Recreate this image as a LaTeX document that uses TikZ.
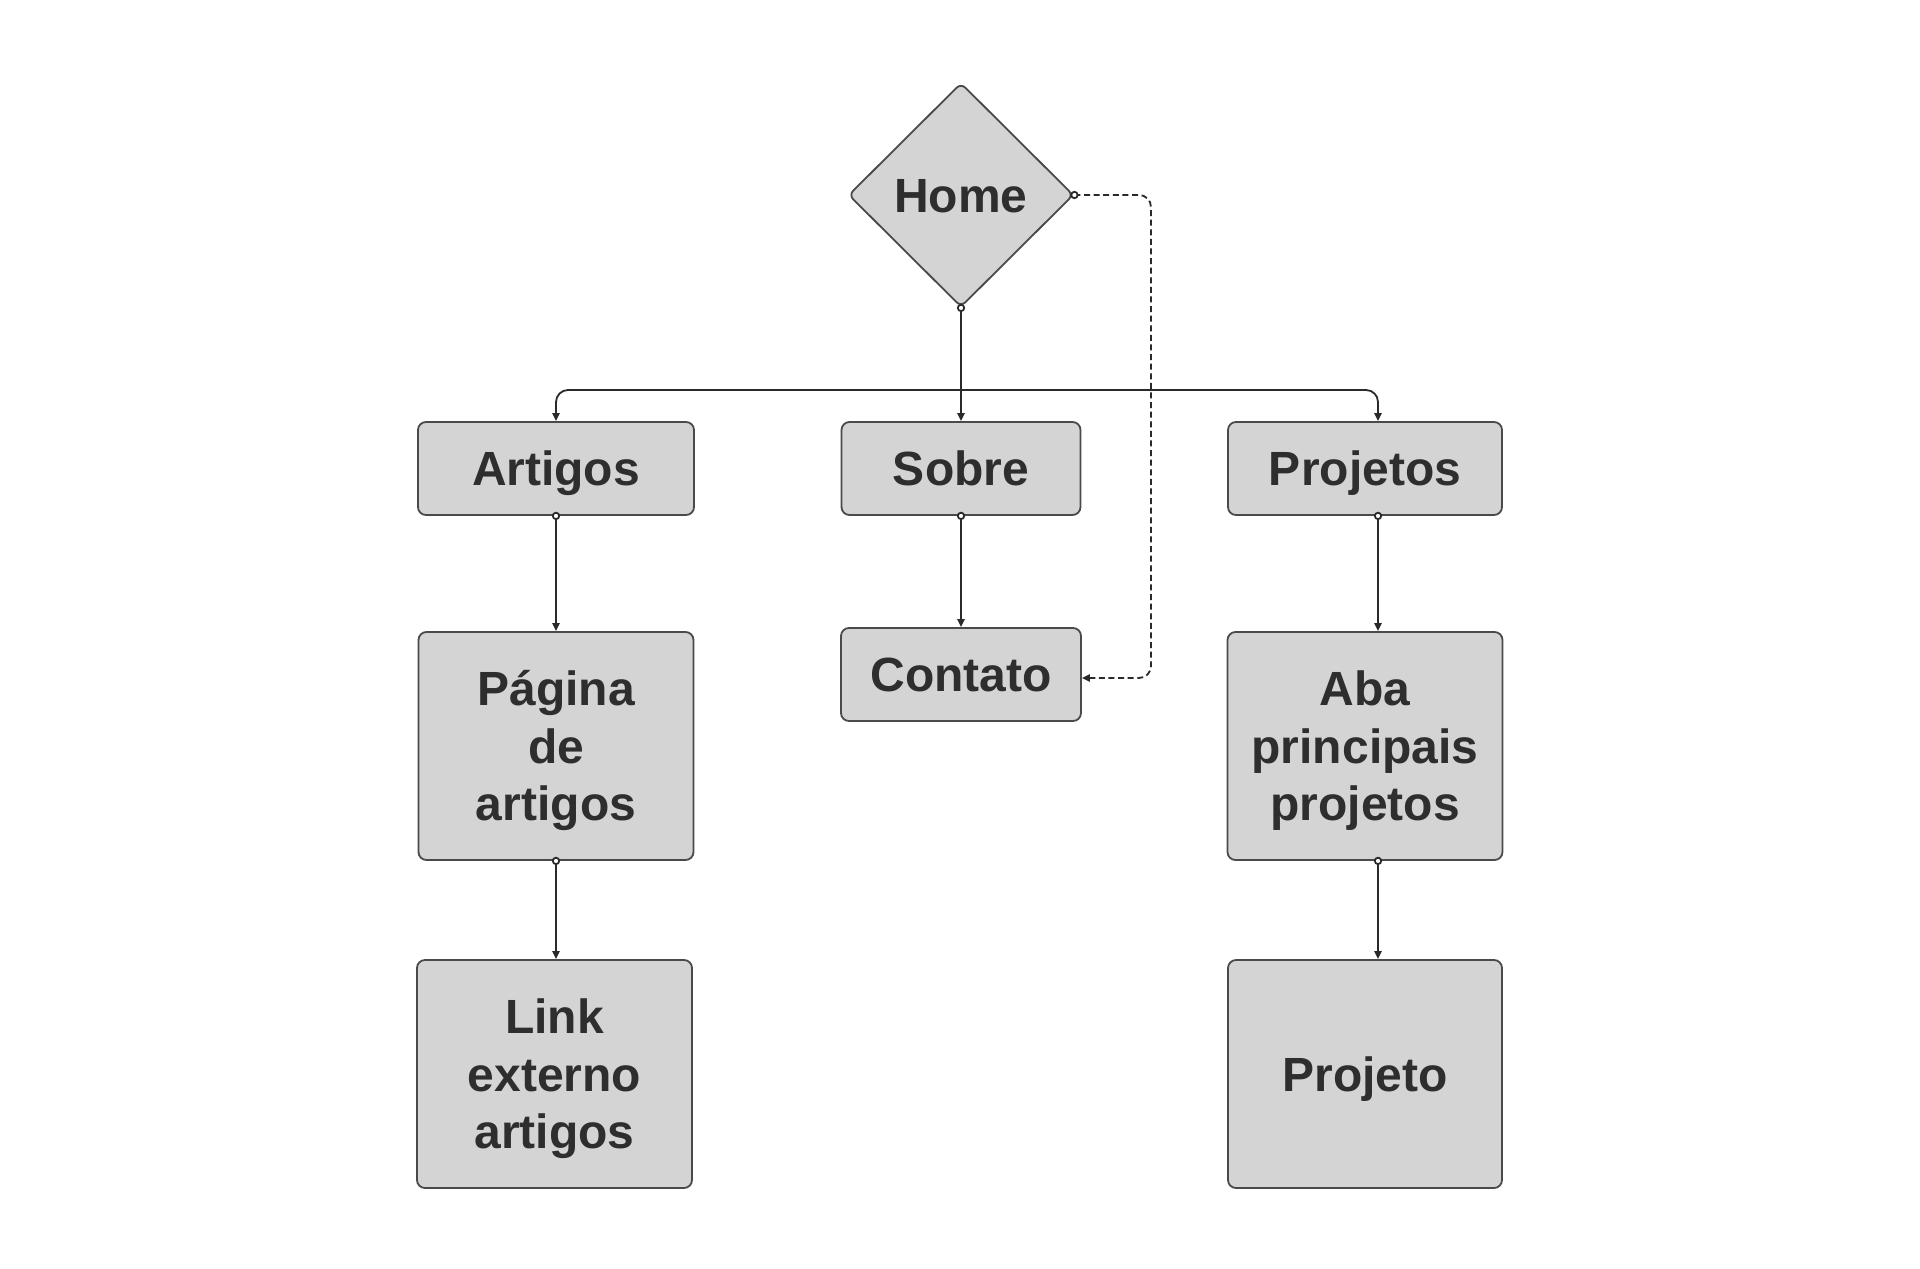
\documentclass[tikz,border=0pt]{standalone}
\usepackage{fontspec}
\setmainfont{Liberation Sans}
\usetikzlibrary{shapes.geometric,arrows.meta,calc}
\definecolor{boxfill}{HTML}{D4D4D4}
\definecolor{boxline}{HTML}{4A4A4A}
\definecolor{txt}{HTML}{2E2E2E}
\definecolor{conline}{HTML}{2A2A2A}
\newcommand\cs{\rule[-5.78pt]{0pt}{28.75pt}}
\begin{document}
\begin{tikzpicture}[x=0.5pt,y=-0.5pt,
  box/.style={draw=boxline,fill=boxfill,line width=0.9pt,rounded corners=4pt,
    inner sep=0pt,align=center,text=txt,
    font=\bfseries\fontsize{24}{28.75}\selectfont},
  dia/.style={box,diamond,rounded corners=3pt},
  conn/.style={draw=conline,line width=0.9pt,rounded corners=6pt,
    -{Triangle[length=4pt,width=3.6pt]}},
  dconn/.style={conn,dash pattern=on 3pt off 1.8pt},
  port/.style={draw=conline,fill=white,line width=0.9pt}]
\useasboundingbox (0,0) rectangle (1920,1268);
\fill[white] (0,0) rectangle (1920,1268);

\node[dia,minimum width=112.5pt,minimum height=112pt] (home) at (961,195) {\cs Home};
\node[box,minimum width=138pt,minimum height=46.5pt] (artigos) at (556,468.5) {\cs Artigos};
\node[box,minimum width=119.5pt,minimum height=46.5pt] (sobre) at (961,468.5) {\cs Sobre};
\node[box,minimum width=137pt,minimum height=46.5pt] (projetos) at (1365,468.5) {\cs Projetos};
\node[box,minimum width=120pt,minimum height=46.5pt] (contato) at (961,674.5) {\cs Contato};
\node[box,minimum width=137.5pt,minimum height=114pt] (pagina) at (556,746) {\cs Página\\\cs de\\\cs artigos};
\node[box,minimum width=137.5pt,minimum height=114pt] (link) at (554.5,1074) {\cs Link\\\cs externo\\\cs artigos};
\node[box,minimum width=137.5pt,minimum height=114pt] (aba) at (1365,746) {\cs Aba\\\cs principais\\\cs projetos};
\node[box,minimum width=137pt,minimum height=114pt] (projeto) at (1365,1074) {\cs Projeto};

\coordinate (bus) at (961,390);
\coordinate (dashx) at (1151,195);
\coordinate (projin) at ($(projetos.north)+(13,0)$);
\coordinate (projout) at ($(projetos.south)+(13,0)$);
\coordinate (abain) at ($(aba.north)+(13,0)$);
\coordinate (abaout) at ($(aba.south)+(13,0)$);
\coordinate (projetoin) at ($(projeto.north)+(13,0)$);
\coordinate (contatoin) at ($(contato.east)+(0,3.5)$);

\draw[conn] (home.south) -- (sobre.north);
\draw[conn] (bus) -| (artigos.north);
\draw[conn] (bus) -| (projin);
\draw[conn] (artigos.south) -- (artigos.south |- pagina.north);
\draw[conn] (pagina.south) -- (pagina.south |- link.north);
\draw[conn] (sobre.south) -- (sobre.south |- contato.north);
\draw[conn] (projout) -- (abain);
\draw[conn] (abaout) -- (projetoin);
\draw[dconn] (home.east) -- (dashx) |- (contatoin);

\foreach \p in {home.south,home.east,artigos.south,pagina.south,sobre.south,projout,abaout}
  \draw[port] (\p) circle[radius=1.6pt];
\end{tikzpicture}
\end{document}
